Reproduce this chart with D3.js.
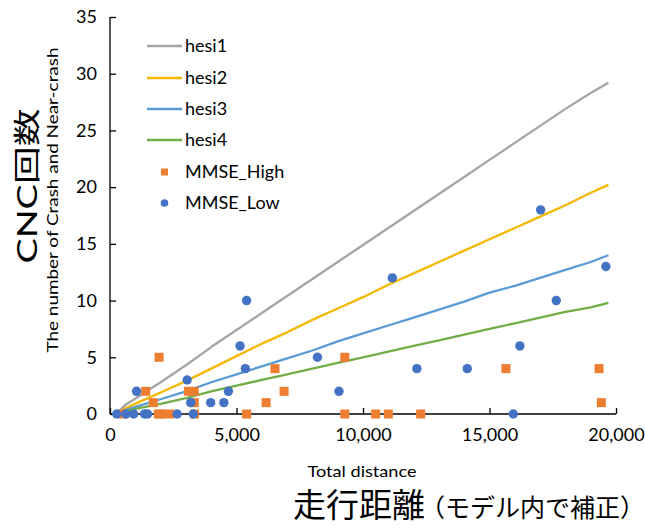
<!DOCTYPE html>
<html><head><meta charset="utf-8">
<script src="https://cdn.jsdelivr.net/npm/d3@7"></script>
<style>body{margin:0;background:#fff}svg{display:block}</style>
</head><body>
<svg id="c" width="645" height="528"></svg>
<script>
// ---- data ----
const lineX = [250, 600, 1100, 2000, 3000, 4000, 5000, 6000, 7000, 8000, 9000, 10000, 11000, 12000, 13000, 14000, 15000, 16000, 17000, 18000, 19000, 19700];
const hesi1 = [0.0, 0.8, 1.5, 2.8, 4.3, 5.9, 7.4, 8.9, 10.4, 11.9, 13.4, 14.9, 16.4, 17.9, 19.4, 20.9, 22.4, 23.9, 25.4, 26.9, 28.3, 29.2];
const hesi2 = [0.0, 0.5, 1.0, 1.9, 2.9, 4.0, 5.1, 6.2, 7.2, 8.3, 9.3, 10.3, 11.4, 12.4, 13.4, 14.4, 15.4, 16.4, 17.4, 18.4, 19.5, 20.2];
const hesi3 = [0.0, 0.35, 0.7, 1.3, 2.0, 2.8, 3.5, 4.2, 4.9, 5.6, 6.4, 7.1, 7.8, 8.5, 9.2, 9.9, 10.7, 11.3, 12.0, 12.7, 13.4, 14.0];
const hesi4 = [0.0, 0.25, 0.5, 0.9, 1.4, 2.0, 2.5, 3.0, 3.5, 4.0, 4.5, 5.0, 5.5, 6.0, 6.5, 7.0, 7.5, 8.0, 8.5, 9.0, 9.4, 9.8];
const highX = [500, 1410, 1710, 1940, 1910, 2010, 2350, 3100, 3330, 3330, 3340, 5400, 6170, 6520, 6880, 9280, 9280, 10500, 11000, 12280, 15650, 19330, 19420];
const highY = [0, 2, 1, 5, 0, 0, 0, 2, 2, 1, 0, 0, 1, 4, 2, 5, 0, 0, 0, 0, 4, 4, 1];
const lowX = [265, 630, 935, 1365, 1485, 2655, 3290, 1050, 3050, 3190, 3980, 4500, 4680, 5140, 5350, 5400, 8200, 9050, 11160, 12130, 14120, 15940, 16200, 17020, 17640, 19600];
const lowY = [0, 0, 0, 0, 0, 0, 0, 2, 3, 1, 1, 1, 2, 6, 4, 10, 5, 2, 12, 4, 4, 0, 6, 18, 10, 13];
const xTicks = [0, 5000, 10000, 15000, 20000];
const yTicks = [0, 5, 10, 15, 20, 25, 30, 35];
const seriesNames = ["hesi1", "hesi2", "hesi3", "hesi4", "MMSE_High", "MMSE_Low"];

// ---- chart ----
const svg = d3.select("#c");
const font = "Lato, 'Noto Sans CJK JP', sans-serif";
const x = d3.scaleLinear().domain([0, 20000]).range([110, 616]);
const y = d3.scaleLinear().domain([0, 35]).range([414, 17]);

const lineColors = ["#A5A5A5", "#F5B800", "#5B9BD5", "#70AD47"];
const lineData = [hesi1, hesi2, hesi3, hesi4];
const colHigh = "#ED7D31", colLow = "#4472C4";

// axes (ticks inside)
const xa = svg.append("g").attr("transform", "translate(0,414)")
  .call(d3.axisBottom(x).tickValues(xTicks).tickSize(-6).tickFormat(d3.format(",")).tickPadding(14));
const ya = svg.append("g").attr("transform", "translate(110,0)")
  .call(d3.axisLeft(y).tickValues(yTicks).tickSize(-6).tickPadding(13));
[xa, ya].forEach(a => {
  a.select(".domain").attr("stroke", "#000").attr("stroke-width", 1.3);
  a.selectAll(".tick line").attr("stroke", "#000").attr("stroke-width", 1.3);
  a.selectAll("text").attr("font-family", font).attr("font-size", 18).attr("fill", "#000");
});
xa.select(".domain").attr("d", "M110,0H616");
ya.select(".domain").attr("d", "M0,414V17");

// lines
const line = d3.line().x((d, i) => x(lineX[i])).y(d => y(d));
lineData.forEach((arr, k) => {
  svg.append("path").datum(arr).attr("d", line)
    .attr("fill", "none").attr("stroke", lineColors[k]).attr("stroke-width", 2.3)
    .attr("stroke-linejoin", "round");
});

// scatter
svg.append("g").selectAll("rect").data(highX).join("rect")
  .attr("x", (d) => x(d) - 4.5).attr("y", (d, i) => y(highY[i]) - 4.5)
  .attr("width", 9).attr("height", 9).attr("fill", colHigh);
svg.append("g").selectAll("circle").data(lowX).join("circle")
  .attr("cx", d => x(d)).attr("cy", (d, i) => y(lowY[i])).attr("r", 4.7).attr("fill", colLow);

// legend
const legY = [46, 78, 109, 140, 172, 203];
const leg = svg.append("g");
seriesNames.forEach((n, i) => {
  if (i < 4) {
    leg.append("line").attr("x1", 147).attr("x2", 182).attr("y1", legY[i]).attr("y2", legY[i])
      .attr("stroke", lineColors[i]).attr("stroke-width", 2.3);
  } else if (i === 4) {
    leg.append("rect").attr("x", 161).attr("y", legY[i] - 3.5).attr("width", 7).attr("height", 7).attr("fill", colHigh);
  } else {
    leg.append("circle").attr("cx", 164.5).attr("cy", legY[i]).attr("r", 3.8).attr("fill", colLow);
  }
  leg.append("text").attr("x", 185).attr("y", legY[i]).attr("dy", "0.35em")
    .attr("font-family", font).attr("font-size", 18).attr("fill", "#000").text(n);
});

// axis titles
svg.append("text").attr("transform", "translate(37,186) rotate(-90)").attr("text-anchor", "middle")
  .attr("font-family", font).attr("font-size", 27).attr("fill", "#000")
  .attr("textLength", 155).attr("lengthAdjust", "spacingAndGlyphs").text("CNC回数");
svg.append("text").attr("transform", "translate(58,200) rotate(-90)").attr("text-anchor", "middle")
  .attr("font-family", font).attr("font-size", 16).attr("fill", "#000")
  .attr("textLength", 305).attr("lengthAdjust", "spacingAndGlyphs").text("The number of Crash and Near-crash");
svg.append("text").attr("x", 362).attr("y", 477).attr("text-anchor", "middle")
  .attr("font-family", font).attr("font-size", 15).attr("fill", "#000")
  .attr("textLength", 109).attr("lengthAdjust", "spacingAndGlyphs").text("Total distance");
const t2 = svg.append("text").attr("x", 293).attr("y", 517).attr("font-family", font).attr("fill", "#000");
t2.append("tspan").attr("font-size", 33).text("走行距離");
t2.append("tspan").attr("font-size", 25).attr("dx", -5).text("（モデル内で補正）");
</script>
</body></html>
